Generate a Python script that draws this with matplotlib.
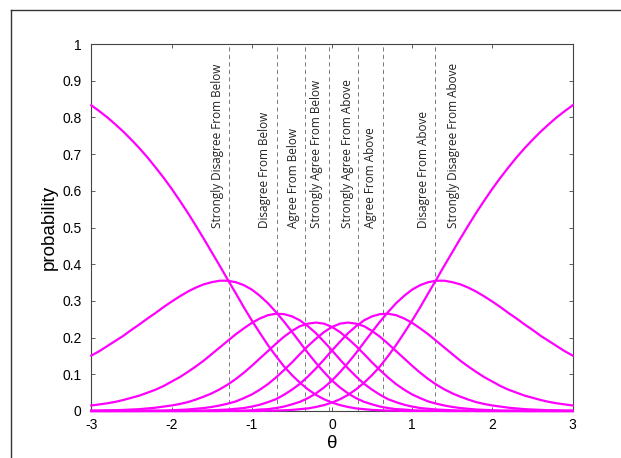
import matplotlib
matplotlib.use("Agg")
import matplotlib.pyplot as plt
from matplotlib.lines import Line2D

plt.rcParams["font.family"] = ["Liberation Sans", "DejaVu Sans"]
plt.rcParams["axes.unicode_minus"] = False

# theta grid (step 0.1) and category probabilities
theta = [round(-3.0 + 0.1 * i, 1) for i in range(61)]

sd_below = [0.833, 0.817, 0.800, 0.781, 0.761, 0.739, 0.716, 0.691, 0.664, 0.636,
            0.606, 0.574, 0.541, 0.506, 0.470, 0.433, 0.396, 0.358, 0.321, 0.283,
            0.247, 0.213, 0.180, 0.150, 0.122, 0.098, 0.077, 0.059, 0.044, 0.032,
            0.023,
            0.016, 0.011, 0.007, 0.005, 0.003, 0.002, 0.001, 0.001, 0, 0,
            0, 0, 0, 0, 0, 0, 0, 0, 0, 0,
            0, 0, 0, 0, 0, 0, 0, 0, 0, 0]
d_below = [0.151, 0.163, 0.177, 0.191, 0.205, 0.221, 0.236, 0.252, 0.267, 0.283,
           0.298, 0.312, 0.325, 0.336, 0.345, 0.351, 0.355, 0.355, 0.351, 0.343,
           0.331, 0.314, 0.294, 0.270, 0.244, 0.216, 0.187, 0.158, 0.131, 0.106,
           0.083,
           0.064, 0.048, 0.035, 0.025, 0.018, 0.012, 0.008, 0.005, 0.004, 0.002,
           0.001, 0.001, 0.001, 0, 0, 0, 0, 0, 0, 0,
           0, 0, 0, 0, 0, 0, 0, 0, 0, 0]
a_below = [0.015, 0.018, 0.021, 0.025, 0.030, 0.036, 0.042, 0.050, 0.058, 0.068,
           0.080, 0.092, 0.106, 0.121, 0.137, 0.155, 0.173, 0.191, 0.209, 0.225,
           0.240, 0.252, 0.261, 0.265, 0.264, 0.258, 0.247, 0.231, 0.212, 0.189,
           0.165,
           0.140, 0.116, 0.094, 0.074, 0.058, 0.044, 0.032, 0.024, 0.017, 0.012,
           0.008, 0.006, 0.004, 0.003, 0.002, 0.001, 0.001, 0, 0, 0,
           0, 0, 0, 0, 0, 0, 0, 0, 0, 0]
sa_below = [0.001, 0.001, 0.002, 0.002, 0.003, 0.004, 0.005, 0.007, 0.009, 0.012,
            0.015, 0.019, 0.024, 0.031, 0.039, 0.048, 0.059, 0.072, 0.087, 0.104,
            0.123, 0.143, 0.163, 0.183, 0.202, 0.218, 0.231, 0.238, 0.241, 0.238,
            0.229,
            0.215, 0.197, 0.177, 0.155, 0.132, 0.111, 0.091, 0.073, 0.058, 0.045,
            0.035, 0.026, 0.020, 0.015, 0.011, 0.008, 0.006, 0.004, 0.003, 0.002,
            0.001, 0.001, 0.001, 0, 0, 0, 0, 0, 0, 0]
sa_above = [0, 0, 0, 0, 0, 0, 0, 0.001, 0.001, 0.001,
            0.002, 0.003, 0.004, 0.006, 0.008, 0.011, 0.015, 0.020, 0.026, 0.035,
            0.045, 0.058, 0.073, 0.091, 0.111, 0.132, 0.155, 0.177, 0.197, 0.215,
            0.229,
            0.238, 0.241, 0.238, 0.231, 0.218, 0.202, 0.183, 0.163, 0.143, 0.123,
            0.104, 0.087, 0.072, 0.059, 0.048, 0.039, 0.031, 0.024, 0.019, 0.015,
            0.012, 0.009, 0.007, 0.005, 0.004, 0.003, 0.002, 0.002, 0.001, 0.001]
a_above = [0, 0, 0, 0, 0, 0, 0, 0, 0, 0,
           0, 0, 0, 0.001, 0.001, 0.002, 0.003, 0.004, 0.006, 0.008,
           0.012, 0.017, 0.024, 0.032, 0.044, 0.058, 0.074, 0.094, 0.116, 0.140,
           0.165,
           0.189, 0.212, 0.231, 0.247, 0.258, 0.264, 0.265, 0.261, 0.252, 0.240,
           0.225, 0.209, 0.191, 0.173, 0.155, 0.137, 0.121, 0.106, 0.092, 0.080,
           0.068, 0.058, 0.050, 0.042, 0.036, 0.030, 0.025, 0.021, 0.018, 0.015]
d_above = [0, 0, 0, 0, 0, 0, 0, 0, 0, 0,
           0, 0, 0, 0, 0, 0, 0, 0.001, 0.001, 0.001,
           0.002, 0.004, 0.005, 0.008, 0.012, 0.018, 0.025, 0.035, 0.048, 0.064,
           0.083,
           0.106, 0.131, 0.158, 0.187, 0.216, 0.244, 0.270, 0.294, 0.314, 0.331,
           0.343, 0.351, 0.355, 0.355, 0.351, 0.345, 0.336, 0.325, 0.312, 0.298,
           0.283, 0.267, 0.252, 0.236, 0.221, 0.205, 0.191, 0.177, 0.163, 0.151]
sd_above = [0, 0, 0, 0, 0, 0, 0, 0, 0, 0,
            0, 0, 0, 0, 0, 0, 0, 0, 0, 0,
            0, 0, 0.001, 0.001, 0.002, 0.003, 0.005, 0.007, 0.011, 0.016,
            0.023,
            0.032, 0.044, 0.059, 0.077, 0.098, 0.122, 0.150, 0.180, 0.213, 0.247,
            0.283, 0.321, 0.358, 0.396, 0.433, 0.470, 0.506, 0.541, 0.574, 0.606,
            0.636, 0.664, 0.691, 0.716, 0.739, 0.761, 0.781, 0.800, 0.817, 0.833]

curves = [sd_below, d_below, a_below, sa_below, sa_above, a_above, d_above, sd_above]

labels = ["Strongly Disagree From Below", "Disagree From Below", "Agree From Below",
          "Strongly Agree From Below", "Strongly Agree From Above", "Agree From Above",
          "Disagree From Above", "Strongly Disagree From Above"]
label_x = [-1.43, -0.84, -0.475, -0.19, 0.19, 0.485, 1.145, 1.515]

# category boundaries (dashed lines)
thresholds = [-1.28, -0.69, -0.335, -0.035, 0.328, 0.632, 1.288]

fig = plt.figure(figsize=(6.21, 4.58), dpi=100)
ax = fig.add_axes([91.3 / 621, 47 / 458, 481.4 / 621, 367 / 458])

for t in thresholds:
    ax.axvline(t, color="#666666", lw=0.6, ls=(0, (5, 4)), zorder=1)

for y in curves:
    ax.plot(theta, y, color="#ff00ff", lw=1.6, clip_on=False, zorder=3)

for lab, x in zip(labels, label_x):
    ax.text(x, 0.5, lab, rotation=90, ha="center", va="bottom",
            fontsize=8.5, family=["Open Sans", "DejaVu Sans"], color="#222222")

ax.set_xlim(-3, 3)
ax.set_ylim(0, 1)
ax.set_xticks([-3, -2, -1, 0, 1, 2, 3])
ax.set_xticklabels(["-3", "-2", "-1", "0", "1", "2", "3"])
yt = [i / 10 for i in range(11)]
ax.set_yticks(yt)
ax.set_yticklabels(["0", "0.1", "0.2", "0.3", "0.4", "0.5", "0.6", "0.7", "0.8", "0.9", "1"])
ax.tick_params(direction="in", top=True, right=True, length=3, width=0.6,
               labelsize=10, color="#444444")
ax.tick_params(axis="y", pad=7)
ax.tick_params(axis="x", pad=5)
for s in ax.spines.values():
    s.set_color("#444444")
    s.set_linewidth(0.8)

ax.set_xlabel("θ", fontsize=13.5, labelpad=2)
ax.set_ylabel("probability", fontsize=13.5, labelpad=3)

# outer frame (top and left edges)
fig.add_artist(Line2D([11 / 621, 1], [1 - 10 / 458, 1 - 10 / 458],
                      transform=fig.transFigure, color="#333333", lw=1.0))
fig.add_artist(Line2D([11 / 621, 11 / 621], [0, 1 - 10 / 458],
                      transform=fig.transFigure, color="#333333", lw=1.0))

fig.savefig("out.png", dpi=100)
